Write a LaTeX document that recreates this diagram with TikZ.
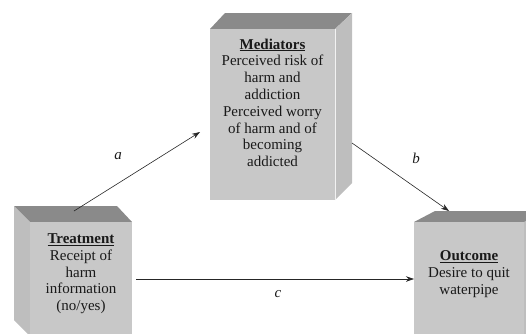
\documentclass[tikz,border=0pt]{standalone}
\usepackage{fontspec}
\setmainfont{Liberation Serif}
\usetikzlibrary{arrows.meta}
\definecolor{frontc}{RGB}{200,200,200}
\definecolor{topc}{RGB}{138,138,138}
\definecolor{sidec}{RGB}{190,190,190}
\begin{document}
\begin{tikzpicture}[x=1pt,y=-1pt,
  front/.style={fill=frontc,draw=none},
  topface/.style={fill=topc,draw=none},
  sideface/.style={fill=sidec,draw=none},
  boxtext/.style={align=center,inner sep=0pt,anchor=north,
    font=\fontsize{15}{16.8}\selectfont,text=black!90},
  lab/.style={font=\fontsize{15}{16.8}\selectfont\itshape,text=black!90,inner sep=0pt},
  conn/.style={draw=black!85,line width=0.6pt,-{Stealth[length=8pt,width=5.5pt]}}]
\useasboundingbox (0,0) rectangle (526,333);
\clip (0,0) rectangle (526,333);
% Mediators box
\fill[topface] (210,29) -- (225,13) -- (352,13) -- (335,29) -- cycle;
\fill[sideface] (335,29) -- (352,13) -- (352,183) -- (335,200) -- cycle;
\node[front,minimum width=125pt,minimum height=171pt,inner sep=0pt,anchor=north west] (medF) at (210,29) {};
\draw[white!90!gray,line width=0.6pt] (335,29) -- (335,200);
\node[boxtext] (medT) at (272.5,38.5) {\underline{\textbf{Mediators}}\\Perceived risk of\\harm and\\addiction\\Perceived worry\\of harm and of\\becoming\\addicted};
% Treatment box
\fill[topface] (30,222) -- (14,206) -- (117,206) -- (132,222) -- cycle;
\fill[sideface] (30,222) -- (14,206) -- (14,320) -- (30,336) -- cycle;
\node[front,minimum width=102pt,minimum height=120pt,inner sep=0pt,anchor=north west] (trtF) at (30,222) {};
\node[boxtext] (trtT) at (81,233.5) {\underline{\textbf{Treatment}}\\Receipt of\\harm\\information\\(no/yes)};
% Outcome box
\fill[topface] (414,222) -- (435,211) -- (560,211) -- (540,222) -- cycle;
\fill[sideface] (524,222) -- (545,211) -- (545,340) -- (524,340) -- cycle;
\node[front,minimum width=110pt,minimum height=120pt,inner sep=0pt,anchor=north west] (outF) at (414,222) {};
\node[boxtext] (outT) at (469,250.5) {\underline{\textbf{Outcome}}\\Desire to quit\\waterpipe};
% connector end points
\coordinate (aS) at (74,211);
\coordinate (aE) at (200,132);
\coordinate (bS) at (352,143);
\coordinate (bE) at (449,211);
\coordinate (cS) at (136,279);
\coordinate (cE) at (414,279);
\draw[conn] (aS) -- (aE);
\draw[conn] (bS) -- (bE);
\draw[conn] (cS) -- (cE);
\node[lab] (la) at (118,156) {a};
\node[lab] (lb) at (416,158) {b};
\node[lab] (lc) at (278,294) {c};
\end{tikzpicture}
\end{document}
